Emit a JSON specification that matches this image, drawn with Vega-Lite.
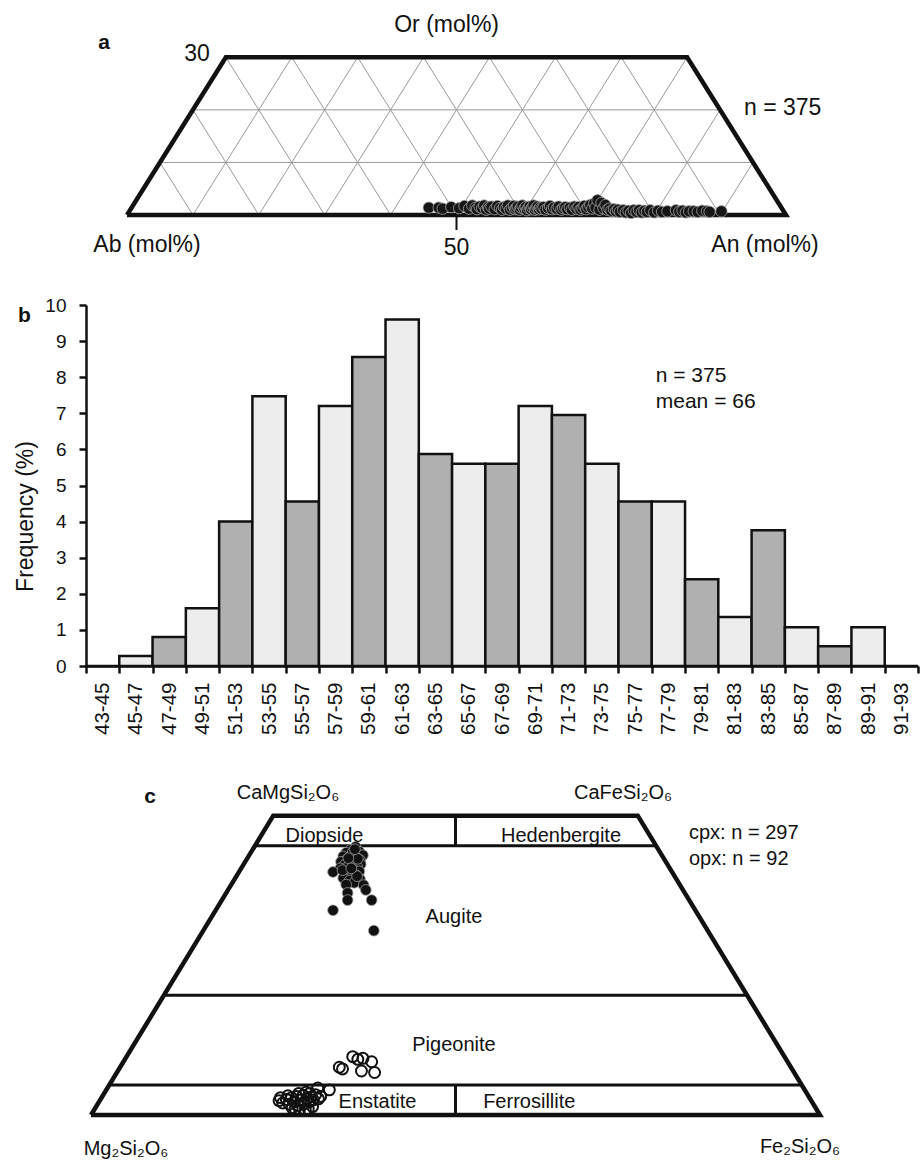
{
  "$schema": "https://vega.github.io/schema/vega-lite/v6.json",
  "background": "white",
  "padding": 0,
  "spacing": 0,
  "bounds": "flush",
  "config": {"view": {"stroke": null}, "font": "Liberation Sans", "axisY": {"labelOverlap": false}, "axisQuantitative": {"labelOverlap": false}},
  "vconcat": [
    {
      "width": 832,
      "height": 305,
      "encoding": {
        "x": {"field": "x", "type": "quantitative", "scale": {"domain": [-6.2215, 120.03], "nice": false, "zero": false}, "axis": null},
        "y": {"field": "y", "type": "quantitative", "scale": {"domain": [-17.12, 40.898], "nice": false, "zero": false}, "axis": null}
      },
      "layer": [
        {
          "data": {"values": [
            {"x": 5, "y": 10, "x2": 95, "y2": 10},
            {"x": 10, "y": 20, "x2": 90, "y2": 20},
            {"x": 10, "y": 0, "x2": 25, "y2": 30},
            {"x": 20, "y": 0, "x2": 35, "y2": 30},
            {"x": 30, "y": 0, "x2": 45, "y2": 30},
            {"x": 40, "y": 0, "x2": 55, "y2": 30},
            {"x": 50, "y": 0, "x2": 65, "y2": 30},
            {"x": 60, "y": 0, "x2": 75, "y2": 30},
            {"x": 70, "y": 0, "x2": 85, "y2": 30},
            {"x": 80, "y": 0, "x2": 90, "y2": 20},
            {"x": 90, "y": 0, "x2": 95, "y2": 10},
            {"x": 90, "y": 0, "x2": 75, "y2": 30},
            {"x": 80, "y": 0, "x2": 65, "y2": 30},
            {"x": 70, "y": 0, "x2": 55, "y2": 30},
            {"x": 60, "y": 0, "x2": 45, "y2": 30},
            {"x": 50, "y": 0, "x2": 35, "y2": 30},
            {"x": 40, "y": 0, "x2": 25, "y2": 30},
            {"x": 30, "y": 0, "x2": 15, "y2": 30},
            {"x": 20, "y": 0, "x2": 10, "y2": 20},
            {"x": 10, "y": 0, "x2": 5, "y2": 10}
          ]},
          "mark": {"type": "rule", "color": "#9a9a9a", "strokeWidth": 1},
          "encoding": {"x2": {"field": "x2"}, "y2": {"field": "y2"}}
        },
        {
          "data": {"values": [
            {"x": 0, "y": 0, "i": 0}, {"x": 15, "y": 30, "i": 1}, {"x": 85, "y": 30, "i": 2}, {"x": 100, "y": 0, "i": 3}, {"x": 0, "y": 0, "i": 4}
          ]},
          "mark": {"type": "line", "color": "#111111", "strokeWidth": 4.5, "strokeJoin": "miter"},
          "encoding": {"order": {"field": "i", "type": "quantitative"}}
        },
        {
          "data": {"values": [{"x": 50, "y": 0, "x2": 50, "y2": -2.85}]},
          "mark": {"type": "rule", "color": "#111111", "strokeWidth": 2},
          "encoding": {"x2": {"field": "x2"}, "y2": {"field": "y2"}}
        },
        {
          "data": {"values": [
            {"x": 45.8, "y": 1.4}, {"x": 47.3, "y": 1.4}, {"x": 47.9, "y": 1.2}, {"x": 49.2, "y": 1.5}, {"x": 50.4, "y": 1.3},
            {"x": 51.2, "y": 1.7}, {"x": 51.9, "y": 1.2}, {"x": 52.4, "y": 1.8}, {"x": 52.9, "y": 1.4},
            {"x": 53.1, "y": 1.1}, {"x": 53.5, "y": 1.6}, {"x": 53.9, "y": 1.3}, {"x": 54.2, "y": 1.8}, {"x": 54.5, "y": 1.0}, {"x": 54.8, "y": 1.5}, {"x": 54.95, "y": 1.2},
            {"x": 55.3, "y": 1.6}, {"x": 55.8, "y": 1.1}, {"x": 56.2, "y": 1.7}, {"x": 56.6, "y": 1.3}, {"x": 56.9, "y": 1.0},
            {"x": 57.2, "y": 1.5}, {"x": 57.5, "y": 1.2}, {"x": 57.8, "y": 1.8}, {"x": 58.1, "y": 1.0}, {"x": 58.4, "y": 1.4}, {"x": 58.7, "y": 1.7}, {"x": 58.9, "y": 1.1},
            {"x": 59.1, "y": 1.3}, {"x": 59.3, "y": 1.6}, {"x": 59.6, "y": 1.0}, {"x": 59.8, "y": 1.4}, {"x": 60.0, "y": 1.8}, {"x": 60.3, "y": 1.2}, {"x": 60.5, "y": 1.5}, {"x": 60.7, "y": 0.9}, {"x": 60.9, "y": 1.3},
            {"x": 61.1, "y": 1.6}, {"x": 61.3, "y": 1.1}, {"x": 61.5, "y": 1.4}, {"x": 61.7, "y": 1.8}, {"x": 61.9, "y": 1.0}, {"x": 62.1, "y": 1.3}, {"x": 62.3, "y": 1.6}, {"x": 62.5, "y": 1.1}, {"x": 62.7, "y": 1.4}, {"x": 62.9, "y": 1.2},
            {"x": 63.2, "y": 1.5}, {"x": 63.5, "y": 1.0}, {"x": 63.9, "y": 1.3}, {"x": 64.2, "y": 1.7}, {"x": 64.5, "y": 1.1}, {"x": 64.8, "y": 1.4},
            {"x": 65.2, "y": 1.2}, {"x": 65.5, "y": 1.6}, {"x": 65.9, "y": 1.0}, {"x": 66.2, "y": 1.3}, {"x": 66.5, "y": 1.5}, {"x": 66.8, "y": 1.1},
            {"x": 67.2, "y": 1.4}, {"x": 67.5, "y": 1.0}, {"x": 67.9, "y": 1.6}, {"x": 68.2, "y": 1.2}, {"x": 68.5, "y": 1.5}, {"x": 68.8, "y": 1.0},
            {"x": 69.1, "y": 1.3}, {"x": 69.4, "y": 1.7}, {"x": 69.7, "y": 1.1}, {"x": 70.0, "y": 1.5}, {"x": 70.3, "y": 1.9}, {"x": 70.6, "y": 1.2}, {"x": 70.9, "y": 2.2},
            {"x": 71.1, "y": 1.4}, {"x": 71.4, "y": 2.8}, {"x": 71.7, "y": 1.0}, {"x": 72.0, "y": 2.3}, {"x": 72.3, "y": 1.3}, {"x": 72.6, "y": 1.9}, {"x": 72.9, "y": 1.0},
            {"x": 73.2, "y": 1.2}, {"x": 73.5, "y": 0.8}, {"x": 73.9, "y": 1.1}, {"x": 74.2, "y": 0.7}, {"x": 74.5, "y": 1.0}, {"x": 74.8, "y": 0.6},
            {"x": 75.3, "y": 0.9}, {"x": 75.7, "y": 0.5}, {"x": 76.1, "y": 0.8}, {"x": 76.5, "y": 0.4}, {"x": 76.9, "y": 0.9},
            {"x": 77.3, "y": 0.6}, {"x": 77.7, "y": 0.9}, {"x": 78.1, "y": 0.5}, {"x": 78.5, "y": 0.8}, {"x": 78.9, "y": 0.6},
            {"x": 79.4, "y": 0.9}, {"x": 80.0, "y": 0.5}, {"x": 80.6, "y": 0.8}, {"x": 81.2, "y": 0.6}, {"x": 82.0, "y": 0.7},
            {"x": 83.3, "y": 0.9}, {"x": 83.8, "y": 0.6}, {"x": 84.3, "y": 0.8}, {"x": 84.8, "y": 0.5}, {"x": 85.3, "y": 0.7},
            {"x": 86.0, "y": 0.7}, {"x": 86.6, "y": 0.6}, {"x": 87.3, "y": 0.8}, {"x": 88.0, "y": 0.7}, {"x": 88.4, "y": 0.6}, {"x": 90.2, "y": 0.7}
          ]},
          "mark": {"type": "circle", "size": 130, "fill": "#161616", "stroke": "#a5a5a5", "strokeWidth": 0.8, "opacity": 1}
        },
        {
          "data": {"values": [
            {"x": 48.5, "y": 36.14, "label": "Or (mol%)"},
            {"x": 10.62, "y": 30.63, "label": "30"},
            {"x": 3.03, "y": -5.71, "label": "Ab (mol%)"},
            {"x": 50, "y": -6.28, "label": "50"},
            {"x": 96.81, "y": -5.71, "label": "An (mol%)"}
          ]},
          "mark": {"type": "text", "align": "center", "baseline": "middle", "fontSize": 23, "color": "#111111", "font": "Liberation Sans"},
          "encoding": {"text": {"field": "label"}}
        },
        {
          "data": {"values": [{"x": 93.63, "y": 20.3, "label": "n = 375"}]},
          "mark": {"type": "text", "align": "left", "baseline": "middle", "fontSize": 23, "color": "#111111", "font": "Liberation Sans"},
          "encoding": {"text": {"field": "label"}}
        },
        {
          "data": {"values": [{"x": -3.49, "y": 32.72, "label": "a"}]},
          "mark": {"type": "text", "align": "center", "baseline": "middle", "fontSize": 21, "fontWeight": "bold", "color": "#111111", "font": "Liberation Sans"},
          "encoding": {"text": {"field": "label"}}
        },
        {
          "data": {"values": [{"x": -19.12, "y": 30}]},
          "mark": {"type": "point", "size": 1, "opacity": 0}
        }
      ]
    },
    {
      "width": 832,
      "height": 361,
      "title": {"text": "b", "anchor": "start", "frame": "group", "orient": "top", "offset": 0, "dx": -68, "dy": 41, "baseline": "middle", "fontSize": 21, "fontWeight": "bold", "color": "#111111", "font": "Liberation Sans"},
      "encoding": {
        "y": {
          "field": "freq", "type": "quantitative", "scale": {"domain": [0, 10], "nice": false},
          "axis": {"title": "Frequency (%)", "values": [0,1,2,3,4,5,6,7,8,9,10], "tickCount": 11, "format": "d", "labelOverlap": false, "labelSeparation": 0, "labelBound": false, "grid": false, "domainColor": "#111111", "domainWidth": 2.5, "tickColor": "#111111", "tickWidth": 2.5, "tickSize": 7, "labelFontSize": 19, "labelColor": "#111111", "labelPadding": 13, "labelFont": "Liberation Sans", "titleFont": "Liberation Sans", "titleFontSize": 23, "titleFontWeight": "normal", "titleColor": "#111111", "titleX": -61, "titleY": 211, "titleBaseline": "middle"}
        }
      },
      "layer": [
        {
          "data": {"values": [
            {"range": "43-45", "freq": 0}, {"range": "45-47", "freq": 0.28}, {"range": "47-49", "freq": 0.8}, {"range": "49-51", "freq": 1.6},
            {"range": "51-53", "freq": 4.0}, {"range": "53-55", "freq": 7.47}, {"range": "55-57", "freq": 4.56}, {"range": "57-59", "freq": 7.2},
            {"range": "59-61", "freq": 8.56}, {"range": "61-63", "freq": 9.6}, {"range": "63-65", "freq": 5.87}, {"range": "65-67", "freq": 5.6},
            {"range": "67-69", "freq": 5.6}, {"range": "69-71", "freq": 7.2}, {"range": "71-73", "freq": 6.95}, {"range": "73-75", "freq": 5.6},
            {"range": "75-77", "freq": 4.56}, {"range": "77-79", "freq": 4.56}, {"range": "79-81", "freq": 2.4}, {"range": "81-83", "freq": 1.36},
            {"range": "83-85", "freq": 3.76}, {"range": "85-87", "freq": 1.07}, {"range": "87-89", "freq": 0.55}, {"range": "89-91", "freq": 1.07},
            {"range": "91-93", "freq": 0}
          ]},
          "transform": [{"window": [{"op": "row_number", "as": "idx"}]}],
          "mark": {"type": "bar", "stroke": "#111111", "strokeWidth": 2.5},
          "encoding": {
            "x": {
              "field": "range", "type": "ordinal", "sort": null,
              "scale": {"domain": ["43-45","45-47","47-49","49-51","51-53","53-55","55-57","57-59","59-61","61-63","63-65","65-67","67-69","69-71","71-73","73-75","75-77","77-79","79-81","81-83","83-85","85-87","87-89","89-91","91-93"], "paddingInner": 0, "paddingOuter": 0},
              "axis": {"title": null, "labelAngle": -90, "tickBand": "extent", "domainColor": "#111111", "domainWidth": 2.5, "tickColor": "#111111", "tickWidth": 2.5, "tickSize": 7, "labelFontSize": 20.5, "labelColor": "#111111", "labelPadding": 9, "labelFont": "Liberation Sans", "labelOverlap": false}
            },
            "fill": {"condition": {"test": "datum.idx % 2 == 0", "value": "#ecedec"}, "value": "#b0b0b0"}
          }
        },
        {
          "data": {"values": [
            {"range": "77-79", "freq": 8.03, "label": "n = 375"},
            {"range": "77-79", "freq": 7.31, "label": "mean = 66"}
          ]},
          "mark": {"type": "text", "align": "left", "baseline": "middle", "dx": 4, "fontSize": 21, "color": "#111111", "font": "Liberation Sans"},
          "encoding": {
            "x": {"field": "range", "type": "ordinal", "bandPosition": 0},
            "text": {"field": "label"}
          }
        }
      ]
    },
    {
      "width": 832,
      "height": 497,
      "encoding": {
        "x": {"field": "x", "type": "quantitative", "scale": {"domain": [-0.686, 113.443], "nice": false, "zero": false}, "axis": null},
        "y": {"field": "y", "type": "quantitative", "scale": {"domain": [-8.019, 75.008], "nice": false, "zero": false}, "axis": null}
      },
      "layer": [
        {
          "data": {"values": [
            {"x": 0, "y": 0, "i": 0}, {"x": 25, "y": 50, "i": 1}, {"x": 75, "y": 50, "i": 2}, {"x": 100, "y": 0, "i": 3}, {"x": 0, "y": 0, "i": 4}
          ]},
          "mark": {"type": "line", "color": "#111111", "strokeWidth": 4.5, "strokeJoin": "miter"},
          "encoding": {"order": {"field": "i", "type": "quantitative"}}
        },
        {
          "data": {"values": [
            {"x": 22.5, "y": 45, "x2": 77.5, "y2": 45},
            {"x": 10, "y": 20, "x2": 90, "y2": 20},
            {"x": 2.5, "y": 5, "x2": 97.5, "y2": 5},
            {"x": 50, "y": 45, "x2": 50, "y2": 50},
            {"x": 50, "y": 0, "x2": 50, "y2": 5}
          ]},
          "mark": {"type": "rule", "color": "#111111", "strokeWidth": 3},
          "encoding": {"x2": {"field": "x2"}, "y2": {"field": "y2"}}
        },
        {
          "data": {"values": [
            {"x": 36.3, "y": 44.8}, {"x": 35.6, "y": 44.3}, {"x": 36.8, "y": 44.0}, {"x": 35.0, "y": 43.8}, {"x": 36.0, "y": 43.6}, {"x": 37.3, "y": 43.4},
            {"x": 34.6, "y": 43.2}, {"x": 35.5, "y": 43.1}, {"x": 36.4, "y": 43.0}, {"x": 35.1, "y": 42.7}, {"x": 36.9, "y": 42.6}, {"x": 35.8, "y": 42.5},
            {"x": 34.3, "y": 42.3}, {"x": 36.2, "y": 42.2}, {"x": 35.4, "y": 42.0}, {"x": 37.0, "y": 41.9}, {"x": 34.8, "y": 41.8}, {"x": 35.9, "y": 41.7},
            {"x": 36.5, "y": 41.5}, {"x": 35.2, "y": 41.4}, {"x": 34.2, "y": 41.2}, {"x": 36.0, "y": 41.0}, {"x": 35.6, "y": 40.9}, {"x": 36.8, "y": 40.7},
            {"x": 34.9, "y": 40.6}, {"x": 33.2, "y": 40.6}, {"x": 35.3, "y": 40.3}, {"x": 36.3, "y": 40.1}, {"x": 35.8, "y": 39.8}, {"x": 34.6, "y": 39.6},
            {"x": 36.9, "y": 39.4}, {"x": 35.5, "y": 39.2}, {"x": 36.1, "y": 38.8}, {"x": 37.4, "y": 38.4}, {"x": 35.0, "y": 38.5}, {"x": 37.7, "y": 37.6},
            {"x": 35.2, "y": 37.1}, {"x": 38.5, "y": 35.9}, {"x": 35.2, "y": 35.9}, {"x": 33.2, "y": 34.2}, {"x": 38.8, "y": 30.8}, {"x": 35.9, "y": 43.9},
            {"x": 36.6, "y": 42.8}, {"x": 35.3, "y": 42.9}, {"x": 34.5, "y": 40.9}, {"x": 36.5, "y": 39.9}, {"x": 35.7, "y": 41.2}, {"x": 36.2, "y": 44.4}
          ]},
          "mark": {"type": "circle", "size": 115, "fill": "#111111", "stroke": "#9a9a9a", "strokeWidth": 0.8, "opacity": 1}
        },
        {
          "data": {"values": [
            {"x": 34.06, "y": 7.97}, {"x": 34.5, "y": 7.7}, {"x": 35.9, "y": 9.74}, {"x": 37.3, "y": 9.47}, {"x": 38.5, "y": 8.9}, {"x": 37.1, "y": 7.35},
            {"x": 38.9, "y": 7.1}, {"x": 36.6, "y": 9.3}, {"x": 32.7, "y": 4.2}, {"x": 31.1, "y": 4.5}, {"x": 30.0, "y": 3.6},
            {"x": 25.8, "y": 2.4}, {"x": 26.3, "y": 2.0}, {"x": 26.8, "y": 2.6}, {"x": 27.2, "y": 1.8}, {"x": 27.5, "y": 2.9}, {"x": 27.9, "y": 2.2},
            {"x": 28.2, "y": 3.1}, {"x": 28.4, "y": 1.6}, {"x": 28.8, "y": 2.5}, {"x": 29.1, "y": 3.3}, {"x": 29.3, "y": 1.9}, {"x": 29.6, "y": 2.8},
            {"x": 29.9, "y": 2.2}, {"x": 30.2, "y": 3.0}, {"x": 30.5, "y": 2.5}, {"x": 30.8, "y": 3.4}, {"x": 31.2, "y": 2.7}, {"x": 27.0, "y": 3.2},
            {"x": 28.0, "y": 1.0}, {"x": 28.6, "y": 0.9}, {"x": 29.4, "y": 0.8}, {"x": 29.8, "y": 1.0}, {"x": 27.6, "y": 1.2}, {"x": 30.4, "y": 1.4},
            {"x": 26.0, "y": 2.9}, {"x": 28.5, "y": 3.6}, {"x": 29.5, "y": 3.8}, {"x": 31.5, "y": 3.1}
          ]},
          "mark": {"type": "point", "shape": "circle", "filled": false, "size": 120, "stroke": "#111111", "strokeWidth": 2, "opacity": 1}
        },
        {
          "data": {"values": [
            {"x": 27.02, "y": 53.79, "label": "CaMgSi₂O₆"},
            {"x": 72.98, "y": 53.79, "label": "CaFeSi₂O₆"},
            {"x": 32.03, "y": 46.61, "label": "Diopside"},
            {"x": 64.47, "y": 46.61, "label": "Hedenbergite"},
            {"x": 49.79, "y": 33.08, "label": "Augite"},
            {"x": 49.79, "y": 11.69, "label": "Pigeonite"},
            {"x": 39.3, "y": 2.22, "label": "Enstatite"},
            {"x": 60.12, "y": 2.17, "label": "Ferrosillite"},
            {"x": 4.8, "y": -5.7, "label": "Mg₂Si₂O₆"},
            {"x": 97.26, "y": -5.3, "label": "Fe₂Si₂O₆"}
          ]},
          "mark": {"type": "text", "align": "center", "baseline": "middle", "fontSize": 20, "color": "#111111", "font": "Liberation Sans"},
          "encoding": {"text": {"field": "label"}}
        },
        {
          "data": {"values": [
            {"x": 82.03, "y": 47.16, "label": "cpx: n = 297"},
            {"x": 82.03, "y": 42.77, "label": "opx: n = 92"}
          ]},
          "mark": {"type": "text", "align": "left", "baseline": "middle", "fontSize": 20, "color": "#111111", "font": "Liberation Sans"},
          "encoding": {"text": {"field": "label"}}
        },
        {
          "data": {"values": [{"x": 8.09, "y": 53.12, "label": "c"}]},
          "mark": {"type": "text", "align": "center", "baseline": "middle", "fontSize": 21, "fontWeight": "bold", "color": "#111111", "font": "Liberation Sans"},
          "encoding": {"text": {"field": "label"}}
        }
      ]
    }
  ]
}
